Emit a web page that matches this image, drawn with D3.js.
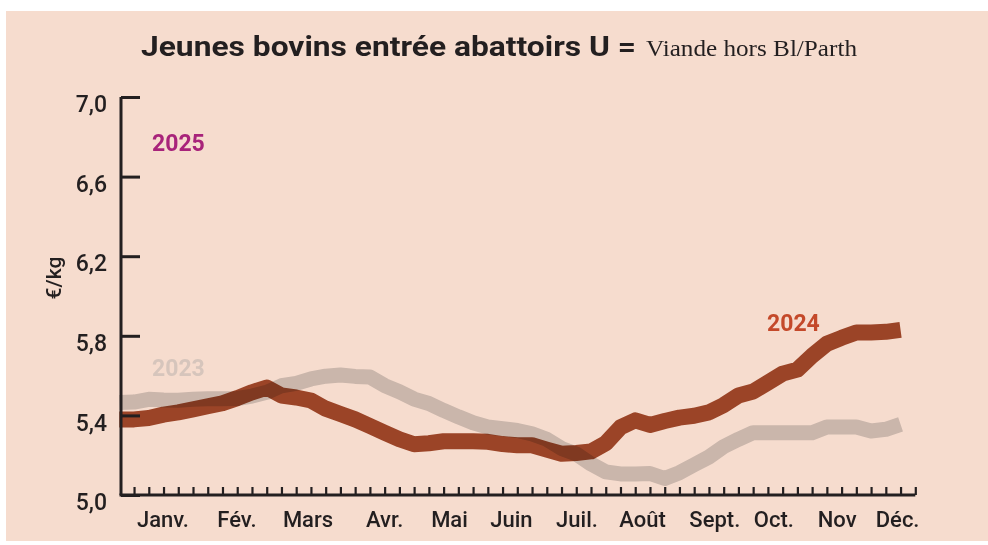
<!DOCTYPE html>
<html>
<head>
<meta charset="utf-8">
<script src="https://cdn.jsdelivr.net/npm/d3@7"></script>
<style>
	body { margin: 0; background: #fff; }
	text { font-family: Roboto, "Noto Sans", sans-serif; }
</style>
</head>
<body>
<script>
// weekly prices, €/kg (week 0 = start of January)
var prix2024 = [5.38, 5.38, 5.387, 5.404, 5.415, 5.43, 5.446, 5.461, 5.487, 5.516,
	5.54, 5.50, 5.49, 5.475, 5.434, 5.407, 5.38, 5.347, 5.313, 5.28,
	5.255, 5.26, 5.27, 5.27, 5.27, 5.267, 5.256, 5.25, 5.25, 5.228,
	5.207, 5.211, 5.219, 5.26, 5.34, 5.375, 5.352, 5.372, 5.389, 5.398,
	5.415, 5.452, 5.50, 5.52, 5.565, 5.61, 5.63, 5.70, 5.76, 5.79,
	5.817, 5.817, 5.82, 5.83];

var prix2023 = [5.465, 5.467, 5.481, 5.477, 5.476, 5.481, 5.484, 5.484, 5.485, 5.497,
	5.516, 5.549, 5.561, 5.583, 5.597, 5.603, 5.596, 5.593, 5.55, 5.519,
	5.482, 5.46, 5.425, 5.393, 5.363, 5.342, 5.333, 5.324, 5.307, 5.28,
	5.234, 5.206, 5.156, 5.116, 5.106, 5.106, 5.108, 5.083, 5.112, 5.152,
	5.191, 5.243, 5.28, 5.313, 5.313, 5.313, 5.313, 5.313, 5.342, 5.342,
	5.342, 5.322, 5.33, 5.355];

var mois = ["Janv.", "Fév.", "Mars", "Avr.", "Mai", "Juin", "Juil.", "Août", "Sept.", "Oct.", "Nov", "Déc."];
var moisSemaine = [2.96, 7.98, 12.8, 18.0, 22.4, 26.6, 31.05, 35.5, 40.4, 44.4, 48.7, 52.8];
var yTicks = [5.0, 5.4, 5.8, 6.2, 6.6, 7.0];
var semaines = d3.range(1, 55);

var W = 988, H = 545;
var ink = "#231f20";

var svg = d3.select('body')
	.append('svg')
		.attr('width', W)
		.attr('height', H)

svg.append('rect')
	.attr('x', 6).attr('y', 11)
	.attr('width', W - 6).attr('height', 530)
	.attr('fill', '#f6dcce')

var x = d3.scaleLinear().domain([0, 54]).range([119.3, 915.3]);
var y = d3.scaleLinear().domain([5, 7]).range([495, 97]);

// title
svg.append('text')
	.attr('x', 141).attr('y', 56)
	.attr('font-size', 27).attr('font-weight', 700)
	.attr('fill', ink)
	.attr('textLength', 495).attr('lengthAdjust', 'spacingAndGlyphs')
	.text('Jeunes bovins entrée abattoirs U =')

svg.append('text')
	.attr('x', 646).attr('y', 56)
	.attr('font-size', 23)
	.attr('fill', ink)
	.style('font-family', '"Liberation Serif", serif')
	.attr('textLength', 211).attr('lengthAdjust', 'spacingAndGlyphs')
	.text('Viande hors Bl/Parth')

// lines
var line = d3.line()
	.x(function(d, i) { return x(i); })
	.y(function(d) { return y(d); })
	.curve(d3.curveLinear);

svg.append('path')
	.datum(prix2023)
	.attr('d', line)
	.attr('fill', 'none')
	.attr('stroke', '#d2d3d4')
	.attr('stroke-width', 15)
	.attr('stroke-linejoin', 'round')
	.style('mix-blend-mode', 'multiply')

svg.append('path')
	.datum(prix2024)
	.attr('d', line)
	.attr('fill', 'none')
	.attr('stroke', '#a14f30')
	.attr('stroke-width', 16)
	.attr('stroke-linejoin', 'round')
	.style('mix-blend-mode', 'multiply')

// y axis
var yAxis = svg.append('g').attr('transform', 'translate(121,0)')
	.call(d3.axisRight(y).tickValues(yTicks).tickSize(19).tickFormat(''));
yAxis.select('.domain').attr('d', 'M0,' + y(7) + 'V' + y(5)).attr('stroke', ink).attr('stroke-width', 3);
yAxis.selectAll('.tick line').attr('stroke', ink).attr('stroke-width', 3);

svg.selectAll('.ylab')
	.data(yTicks)
	.enter().append('text')
		.attr('class', 'ylab')
		.attr('x', 107)
		.attr('y', function(d) { return y(d) + 7; })
		.attr('dy', '0.36em')
		.attr('text-anchor', 'end')
		.attr('font-size', 23)
		.attr('font-weight', 500)
		.attr('fill', ink)
		.text(function(d) { return d3.format('.1f')(d).replace('.', ','); })

svg.append('text')
	.attr('transform', 'translate(61,278) rotate(-90)')
	.attr('text-anchor', 'middle')
	.attr('font-size', 21)
	.attr('font-weight', 500)
	.attr('fill', ink)
	.text('€/kg')

// x axis, one tick per week
var xAxis = svg.append('g').attr('transform', 'translate(0,' + y(5) + ')')
	.call(d3.axisTop(x).tickValues(semaines).tickSize(8).tickFormat(''));
xAxis.select('.domain').attr('d', 'M119.5,0H' + x(54)).attr('stroke', ink).attr('stroke-width', 3);
xAxis.selectAll('.tick line').attr('stroke', ink).attr('stroke-width', 2.2);

svg.selectAll('.mois')
	.data(mois)
	.enter().append('text')
		.attr('class', 'mois')
		.attr('x', function(d, i) { return x(moisSemaine[i]); })
		.attr('y', 527)
		.attr('text-anchor', 'middle')
		.attr('font-size', 22)
		.attr('font-weight', 500)
		.attr('fill', ink)
		.text(function(d) { return d; })

// year labels
var annees = [
	{ t: '2025', c: '#a8237a', w: 2.22, v: 6.77 },
	{ t: '2023', c: '#d6c5bc', w: 2.22, v: 5.638 },
	{ t: '2024', c: '#c4492a', w: 43.94, v: 5.864 }
];
svg.selectAll('.annee')
	.data(annees)
	.enter().append('text')
		.attr('class', 'annee')
		.attr('x', function(d) { return x(d.w); })
		.attr('y', function(d) { return y(d.v); })
		.attr('dy', '0.36em')
		.attr('font-size', 23)
		.attr('font-weight', 700)
		.attr('fill', function(d) { return d.c; })
		.text(function(d) { return d.t; })
</script>
</body>
</html>
